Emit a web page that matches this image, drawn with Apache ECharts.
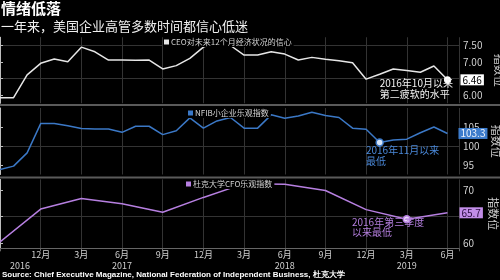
<!DOCTYPE html>
<html><head><meta charset="utf-8">
<script src="https://cdn.jsdelivr.net/npm/echarts@6/dist/echarts.min.js"></script>
<style>html,body{margin:0;padding:0;background:#000;}#c{width:500px;height:280px;}</style>
</head><body><div id="c"></div>
<script>
const months = ['2016-09','2016-10','2016-11','2016-12',
  '2017-01','2017-02','2017-03','2017-04','2017-05','2017-06','2017-07','2017-08','2017-09','2017-10','2017-11','2017-12',
  '2018-01','2018-02','2018-03','2018-04','2018-05','2018-06','2018-07','2018-08','2018-09','2018-10','2018-11','2018-12',
  '2019-01','2019-02','2019-03','2019-04','2019-05','2019-06'];
const ceo = [5.92, 5.92, 6.61, 6.96, 7.09, 7.01, 7.45, 7.31, 7.06, 7.06, 7.05, 7.06, 6.79, 6.89, 7.11, 7.45,
  7.60, 7.50, 7.21, 7.21, 7.31, 7.24, 7.06, 7.14, 7.08, 7.04, 6.98, 6.48, 6.63, 6.79, 6.74, 6.69, 6.88, 6.46];
const nfib = [93.8, 94.7, 98.2, 105.9, 105.9, 105.3, 104.6, 104.5, 104.5, 103.6, 105.2, 105.2, 103.0, 104.0, 107.4, 104.7,
  106.6, 107.5, 104.7, 104.7, 108.2, 107.3, 107.9, 108.9, 108.0, 107.5, 104.7, 104.4, 100.9, 101.6, 101.8, 103.5, 105.0, 103.3];
const cfoQuarters = ['2016-09','2016-12','2017-03','2017-06','2017-09','2017-12','2018-03','2018-06','2018-09','2018-12','2019-03','2019-06'];
const cfo = [60.2, 66.4, 68.4, 67.4, 65.8, 68.6, 71.2, 71.1, 69.9, 66.3, 64.5, 65.7];
const yearLabels = {'2016-09': '2016', '2017-06': '2017', '2018-06': '2018', '2019-03': '2019'};
const seriesNames = ['CEO对未来12个月经济状况的信心', 'NFIB小企业乐观指数', '杜克大学CFO乐观指数'];
const notes = ['2016年10月以来\n第二疲软的水平', '2016年11月以来\n最低', '2016年第三季度\n以来最低'];
const noteSince = ['2016-10', '2016-11', '2016-09'];
const yName = '指数位';
const titleText = '情绪低落';
const subText = '一年来，美国企业高管多数时间都信心低迷';
const sourceText = 'Source: Chief Executive Magazine, National Federation of Independent Business, 杜克大学';

const FONT = 'Noto Sans CJK SC';
const colors = ['#e6e6e6', '#3b78c6', '#b67fe0'];
const GRID = '#333';
const T = 'rgba(0,0,0,0)';
const lastIdx = months.length - 1;
const xMax = 33.85;

const noteStyle = (c) => ({show: true, color: c, fontSize: 10, lineHeight: 10.5, fontFamily: FONT, align: 'left', verticalAlign: 'top'});

// lowest value after the "since" month
function minAfter(vals, monthsOf, since) {
  let best = -1;
  vals.forEach((v, k) => { if (monthsOf[k] > since && (best < 0 || v < vals[best])) best = k; });
  return best;
}

const ceoData = ceo.map((v, i) => i === lastIdx ? {
  value: [i, v], symbol: 'circle', symbolSize: 7, itemStyle: {color: '#fff'},
  label: Object.assign(noteStyle('#f2f2f2'), {formatter: notes[0], position: [-64.3, 2]})
} : [i, v]);
const nfibMin = minAfter(nfib, months, noteSince[1]);
const nfibData = nfib.map((v, i) => i === nfibMin ? {
  value: [i, v], symbol: 'circle', symbolSize: 7, itemStyle: {color: '#d6e4f7', borderColor: colors[1], borderWidth: 1.5},
  label: Object.assign(noteStyle('#4a88d8'), {formatter: notes[1], position: [-9.5, 7]})
} : [i, v]);
const cfoMin = minAfter(cfo, cfoQuarters, noteSince[2]);
const cfoData = cfo.map((v, k) => {
  const i = months.indexOf(cfoQuarters[k]);
  return k === cfoMin ? {
    value: [i, v], symbol: 'circle', symbolSize: 7, itemStyle: {color: '#ead8fa', borderColor: colors[2], borderWidth: 1.5},
    label: Object.assign(noteStyle('#b27ddc'), {formatter: notes[2], position: [-50.6, 2]})
  } : [i, v];
});

function xAx(g, showLabels) {
  return {
    type: 'value', gridIndex: g, min: 0, max: xMax, interval: 3,
    axisLine: {show: showLabels, lineStyle: {color: '#666'}},
    axisTick: {show: showLabels, length: 3, lineStyle: {color: '#666'}},
    splitLine: {show: true, lineStyle: {color: GRID, width: 1}},
    axisLabel: {
      show: showLabels, margin: 1, color: '#cfcfcf', fontSize: 9, lineHeight: 11, fontFamily: FONT,
      formatter: function (v) {
        const i = Math.round(v);
        if (Math.abs(v - i) > 1e-6 || !months[i]) return '';
        const m = months[i];
        const yr = yearLabels[m];
        if (i === 0) return '\n{s|' + yr + '}';
        const lbl = parseInt(m.slice(5), 10) + '月';
        return yr ? lbl + '\n' + yr : lbl;
      },
      rich: {s: {padding: [0, 0, 0, 40], color: '#cfcfcf', fontSize: 9, lineHeight: 11, fontFamily: FONT}}
    }
  };
}
function yAx(g, min, max, interval, ticks, labels, lineColors, dec) {
  return {
    type: 'value', gridIndex: g, position: 'right', min: min, max: max, interval: interval,
    name: yName, nameLocation: 'middle', nameGap: 29, nameRotate: -90,
    nameTextStyle: {color: '#cfcfcf', fontSize: 11, fontFamily: FONT},
    axisLine: {show: true, lineStyle: {color: '#bdbdbd', width: 1}},
    axisTick: {show: true, length: 3, customValues: ticks, lineStyle: {color: '#bdbdbd'}},
    axisLabel: {customValues: labels, margin: 4, color: '#d0d0d0', fontSize: 10, fontFamily: FONT,
      formatter: v => v.toFixed(dec)},
    splitLine: {show: true, lineStyle: {color: lineColors, width: 1}}
  };
}
function legendFor(name, left, top) {
  return {
    data: [name], left: left, top: top, icon: 'rect', itemWidth: 5, itemHeight: 5, selectedMode: false,
    backgroundColor: '#000', padding: [1, 2, 1, 1],
    textStyle: {color: '#d4d4d4', fontSize: 8, fontFamily: FONT, padding: [0, 0, 0, -3]}
  };
}
function endLab(bg, fg, dec, dist) {
  return {show: true, distance: dist, backgroundColor: bg, color: fg, fontSize: 10, fontFamily: FONT,
    padding: [1, 2, 0, 2], formatter: p => p.value[1].toFixed(dec)};
}
const gridBase = {left: 0, right: 41, containLabel: false, outerBoundsMode: 'none'};

const chart = echarts.init(document.getElementById('c'), null, {renderer: 'canvas'});
chart.setOption({
  backgroundColor: '#000',
  animation: false,
  textStyle: {fontFamily: FONT},
  title: [
    {text: titleText, subtext: subText, left: 1, top: 0, padding: 0, itemGap: 3,
      textStyle: {color: '#fff', fontSize: 15, lineHeight: 16, fontWeight: 'bold', fontFamily: FONT},
      subtextStyle: {color: '#f0f0f0', fontSize: 13, lineHeight: 14, fontFamily: FONT}},
    {text: sourceText, left: 2, top: 270, padding: 0,
      textStyle: {color: '#fff', fontSize: 8, lineHeight: 10, fontWeight: 'bold', fontFamily: 'Liberation Sans'}}
  ],
  grid: [
    Object.assign({top: 37.25, height: 66}, gridBase),
    Object.assign({top: 108, height: 66.5}, gridBase),
    Object.assign({top: 179.4, height: 68.9}, gridBase)
  ],
  xAxis: [xAx(0, false), xAx(1, false), xAx(2, true)],
  yAxis: [
    yAx(0, 5.75, 7.75, 0.25, [6, 6.5, 7, 7.5], [6, 7, 7.5], [T, GRID], 2),
    yAx(1, 92.5, 110, 2.5, [95, 100, 105], [95, 100, 105], [T, GRID, T, GRID, T, GRID, T, T], 0),
    yAx(2, 59, 72, 1, [60, 65, 70], [60, 70], [T, GRID, T, T, T, T, GRID, T, T, T, T, GRID, T, T], 0)
  ],
  legend: [
    legendFor(seriesNames[0], 163, 37),
    legendFor(seriesNames[1], 187, 108),
    legendFor(seriesNames[2], 185, 179)
  ],
  graphic: [
    {type: 'rect', shape: {x: 0, y: 104, width: 500, height: 2}, style: {fill: '#5a5a5a'}, z: 10},
    {type: 'rect', shape: {x: 0, y: 176.5, width: 500, height: 2}, style: {fill: '#5a5a5a'}, z: 10}
  ],
  series: [
    {name: seriesNames[0], type: 'line', xAxisIndex: 0, yAxisIndex: 0, data: ceoData, symbol: 'none', showSymbol: true,
      lineStyle: {color: colors[0], width: 1.5}, itemStyle: {color: colors[0]},
      endLabel: endLab('#ffffff', '#000', 2, 13), z: 3},
    {name: seriesNames[1], type: 'line', xAxisIndex: 1, yAxisIndex: 1, data: nfibData, symbol: 'none', showSymbol: true,
      lineStyle: {color: colors[1], width: 1.5}, itemStyle: {color: colors[1]},
      endLabel: endLab('#3d7ccc', '#eef3fb', 1, 11), z: 3},
    {name: seriesNames[2], type: 'line', xAxisIndex: 2, yAxisIndex: 2, data: cfoData, symbol: 'none', showSymbol: true,
      lineStyle: {color: colors[2], width: 1.5}, itemStyle: {color: colors[2]},
      endLabel: endLab('#c28de8', '#2a0c40', 1, 12), z: 3}
  ]
});
</script></body></html>
